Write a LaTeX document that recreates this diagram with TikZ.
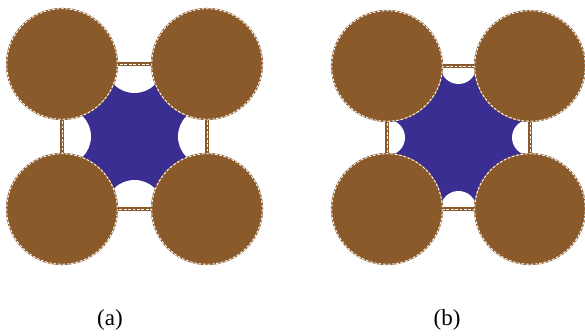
\documentclass[tikz,border=0pt]{standalone}
\usepackage{fontspec}
\setmainfont{Liberation Serif}
\definecolor{grainbrown}{RGB}{139,90,43}
\definecolor{poreblue}{RGB}{58,46,146}
\begin{document}
\begin{tikzpicture}[x=1pt,y=-1pt,
grain/.style={fill=grainbrown,draw=grainbrown,line width=1.2pt},
rim/.style={draw=grainbrown,line width=3.2pt},
rimdash/.style={draw=white,line width=0.9pt,dash pattern=on 2.8pt off 1.6pt},
caption/.style={font=\fontsize{23}{27}\selectfont,inner sep=0pt}]
\useasboundingbox (0,0) rectangle (585,336);
% panel (a) and panel (b): corner x, corner y, side, pore radius
\foreach \cx/\cy/\s/\r in {62/64/145/29, 387/66/143/18}{
  \fill[poreblue] (\cx,\cy) rectangle ++(\s,\s);
  \foreach \px/\py in {0.5/0,0/0.5,1/0.5,0.5/1}
    \fill[white] (\cx+\px*\s,\cy+\py*\s) circle[radius=\r];
  \draw[rim] (\cx,\cy) rectangle ++(\s,\s);
  \draw[rimdash] (\cx,\cy) rectangle ++(\s,\s);
  \foreach \gx/\gy in {0/0,1/0,0/1,1/1}{
    \filldraw[grain] (\cx+\gx*\s,\cy+\gy*\s) circle[radius=55.5];
    \draw[rimdash] (\cx+\gx*\s,\cy+\gy*\s) circle[radius=55.3];
  }
}
\node[caption] (capa) at (110,320) {(a)};
\node[caption] (capb) at (447,320) {(b)};
\end{tikzpicture}
\end{document}
